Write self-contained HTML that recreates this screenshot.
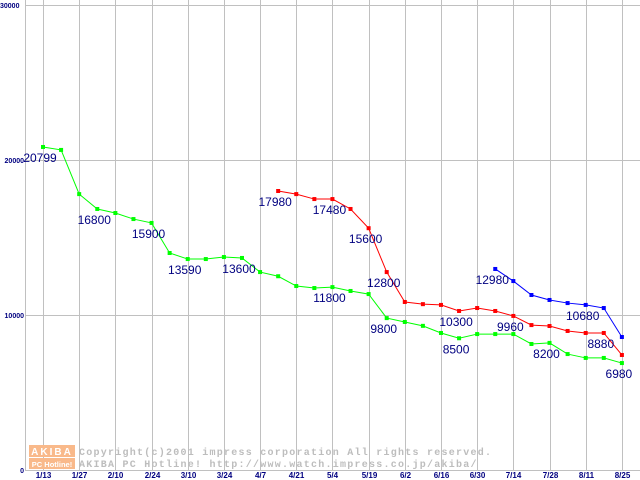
<!DOCTYPE html>
<html><head><meta charset="utf-8"><style>
body{margin:0;background:#fff;}
svg{display:block;font-family:"Liberation Sans",sans-serif;}
</style></head><body>
<svg id="chart" width="640" height="480" viewBox="0 0 640 480">
<g id="grid"></g>
<g id="wm">
<rect x="29" y="445" width="46" height="12" fill="#f9b98a"/>
<text x="52" y="455" font-size="10" font-weight="bold" fill="#fff" text-anchor="middle" letter-spacing="2">AKIBA</text>
<rect x="29" y="458" width="46" height="11" fill="#f9b98a"/>
<text x="52" y="467" font-size="7.5" font-weight="bold" fill="#fff" text-anchor="middle">PC Hotline!</text>
<text x="79" y="455" font-size="10" font-weight="bold" fill="#bdbdbd" font-family="Liberation Mono,monospace" letter-spacing="1.25">Copyright(c)2001 impress corporation All rights reserved.</text>
<text x="79" y="467" font-size="10" font-weight="bold" fill="#bdbdbd" font-family="Liberation Mono,monospace" letter-spacing="1.25">AKIBA PC Hotline!  http://www.watch.impress.co.jp/akiba/</text>
</g>
<g id="series"></g>
<g id="labels"></g>
</svg>
<script>
const xTicks=["1/13","1/27","2/10","2/24","3/10","3/24","4/7","4/21","5/4","5/19","6/2","6/16","6/30","7/14","7/28","8/11","8/25"];
const yTicks=[0,10000,20000,30000];
const greenStart=0;
const greenValues=[20840,20650,17800,16840,16580,16190,15940,14000,13610,13610,13740,13680,12770,12500,11870,11740,11800,11550,11350,9800,9550,9300,8840,8500,8770,8770,8770,8130,8200,7480,7230,7230,6900];
const redStart=13;
const redValues=[18000,17800,17480,17480,16840,15600,12770,10840,10700,10650,10260,10450,10260,9940,9350,9290,8970,8840,8840,7420];
const blueStart=25;
const blueValues=[12970,12190,11290,10970,10770,10650,10450,8580];
const labelSeries=["g","g","g","g","g","g","g","g","g","g","r","r","r","r","r","r","r","b","b"];
const labelIdx=[0,3,6,8,11,16,19,23,28,32,13,16,18,19,23,26,31,25,30];
const labelText=["20799","16800","15900","13590","13600","11800","9800","8500","8200","6980","17980","17480","15600","12800","10300","9960","8880","12980","10680"];
const NS="http://www.w3.org/2000/svg";
const X=i=>43+i*18.09;
const Y=v=>470-v*155/10000;
function mk(tag,attrs,parent){const e=document.createElementNS(NS,tag);for(const k in attrs)e.setAttribute(k,attrs[k]);parent.appendChild(e);return e;}
const grid=document.getElementById('grid');
yTicks.forEach(v=>{
 const l=mk('line',{x1:25,x2:640,y1:Y(v)+0.5,y2:Y(v)+0.5,stroke:'#c0c0c0'},grid);
 
 
 const t=mk('text',{x:v===30000?0:24,y:Y(v)+3,'font-size':7,'font-weight':'bold',fill:'#000080','text-anchor':v===30000?'start':'end'},grid);
 t.textContent=String(v);
 
 
});
const ax=mk('line',{x1:25.5,x2:25.5,y1:0,y2:470,stroke:'#c0c0c0'},grid);


xTicks.forEach((s,k)=>{
 const x=Math.round(X(k*2))+0.5;
 const l=mk('line',{x1:x,x2:x,y1:0,y2:470,stroke:'#c0c0c0'},grid);
 
 
 const t=mk('text',{x:x,y:478,'font-size':8,'font-weight':'bold',fill:'#000080','text-anchor':'middle'},grid);
 t.textContent=s;
 
 
});
const ser=document.getElementById('series');
function draw(start,vals,color,name){
 const pts=vals.map((v,i)=>[X(start+i),Y(v)]);
 const p=mk('polyline',{points:pts.map(q=>q.join(',')).join(' '),fill:'none',stroke:color,'stroke-width':1},ser);
 
 
 pts.forEach(q=>{
  const r=mk('rect',{x:q[0]-2,y:q[1]-2,width:4,height:4,fill:color},ser);
  
  
 });
}
draw(greenStart,greenValues,'#00ff00','green-series');
draw(redStart,redValues,'#ff0000','red-series');
draw(blueStart,blueValues,'#0000ff','blue-series');
const lab=document.getElementById('labels');
const sets={g:[greenStart,greenValues],r:[redStart,redValues],b:[blueStart,blueValues]};
labelText.forEach((s,k)=>{
 const st=sets[labelSeries[k]];const i=labelIdx[k];
 const t=mk('text',{x:X(i)-3,y:Y(st[1][i-st[0]])+15,'font-size':12,fill:'#000080','text-anchor':'middle'},lab);
 t.textContent=s;
 
 
});
</script>
</body></html>
